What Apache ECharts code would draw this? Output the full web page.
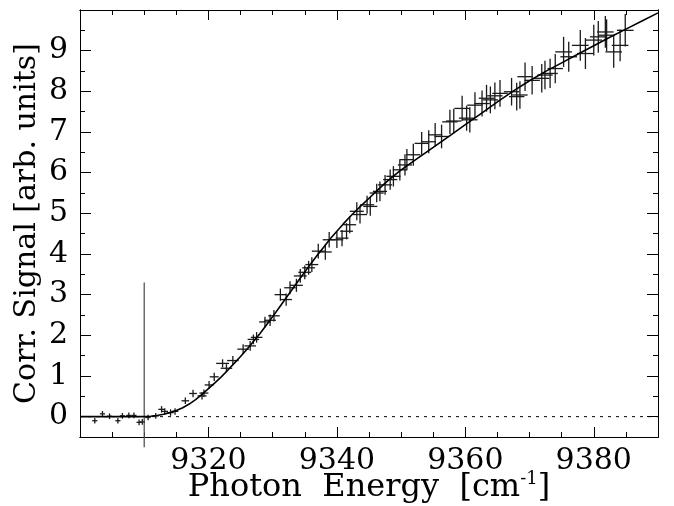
<!DOCTYPE html>
<html><head><meta charset="utf-8">
<script src="https://cdn.jsdelivr.net/npm/echarts@6/dist/echarts.min.js"></script>
<style>html,body{margin:0;padding:0;background:#fff}#c{width:674px;height:506px}</style>
</head><body><div id="c"></div>
<script>
// measured points (photon energy, corrected signal) with error half-widths
const pointX = [9302.3,9303.5,9304.6,9305.9,9306.6,9307.6,9308.4,9309.2,9309.7,9310.6,
  9311.8,9312.7,9313.2,9314.1,9314.8,9316.4,9317.6,9319.0,9319.3,9320.1,
  9320.9,9322.2,9322.8,9323.8,9325.4,9326.5,9327.0,9327.5,9328.8,9329.6,
  9330.2,9331.2,9332.1,9332.7,9333.7,9334.3,9335.0,9335.6,9336.1,9337.1,
  9338.2,9338.8,9340.0,9340.8,9341.5,9342.0,9343.1,9343.6,9344.7,9345.2,
  9346.2,9346.7,9347.5,9348.3,9348.8,9349.8,9350.6,9350.9,9351.9,9353.2,
  9354.3,9355.3,9356.3,9357.6,9358.2,9359.5,9360.2,9360.7,9361.5,9362.6,
  9363.3,9363.9,9364.6,9365.4,9367.2,9368.0,9368.5,9369.3,9370.4,9371.9,
  9372.4,9373.2,9374.0,9375.3,9376.1,9377.9,9378.7,9380.0,9380.7,9381.8,
  9382.0,9383.1,9384.1,9384.9];
const pointY = [-0.10,0.07,0.01,-0.10,0.02,0.03,0.03,-0.14,-0.13,-0.02,
  0.02,0.18,0.13,0.10,0.13,0.39,0.57,0.51,0.58,0.78,
  0.98,1.31,1.19,1.38,1.66,1.74,1.90,1.95,2.33,2.37,
  2.48,3.00,2.88,3.17,3.23,3.46,3.55,3.66,3.74,4.07,
  4.05,4.35,4.35,4.39,4.56,4.72,5.05,4.97,5.21,5.17,
  5.50,5.54,5.70,5.83,5.91,6.07,6.19,6.32,6.44,6.72,
  6.76,6.93,6.89,7.25,7.27,7.58,7.34,7.30,7.66,7.70,
  7.83,7.79,7.89,7.95,7.99,7.87,7.91,8.36,8.27,8.32,
  8.40,8.44,8.56,8.97,8.85,9.13,8.93,9.26,9.34,9.46,
  9.38,8.97,9.13,9.50];
const errX = [0.4,0.4,0.4,0.4,0.4,0.4,0.4,0.4,0.4,0.4,
  0.5,0.5,0.5,0.5,0.5,0.6,0.6,0.7,0.7,0.7,
  0.7,1.0,0.9,0.9,0.9,0.9,0.9,0.9,0.9,0.9,
  0.9,0.9,0.9,0.9,1.0,1.0,1.0,1.0,1.0,1.0,
  1.0,1.0,1.0,1.0,1.0,1.0,1.1,1.1,1.1,1.1,
  1.1,1.1,1.1,1.1,1.1,1.1,1.1,1.1,1.1,1.1,
  1.1,1.1,1.1,1.2,1.2,1.2,1.2,1.2,1.2,1.2,
  1.2,1.2,1.2,1.2,1.2,1.2,1.2,1.2,1.2,1.2,
  1.2,1.2,1.2,1.3,1.3,1.3,1.3,1.3,1.3,1.3,
  1.3,1.3,1.3,1.3];
const errY = [0.07,0.07,0.07,0.07,0.07,0.07,0.07,0.07,0.07,0.07,
  0.07,0.08,0.08,0.08,0.08,0.08,0.09,0.09,0.09,0.10,
  0.10,0.10,0.10,0.11,0.12,0.12,0.12,0.13,0.13,0.14,
  0.14,0.15,0.15,0.16,0.16,0.17,0.17,0.17,0.18,0.18,
  0.19,0.19,0.20,0.20,0.20,0.21,0.22,0.22,0.22,0.23,
  0.23,0.24,0.24,0.25,0.25,0.26,0.26,0.26,0.27,0.28,
  0.28,0.29,0.29,0.30,0.30,0.31,0.31,0.31,0.32,0.32,
  0.33,0.33,0.33,0.33,0.34,0.34,0.34,0.35,0.35,0.35,
  0.35,0.36,0.36,0.37,0.37,0.38,0.38,0.38,0.39,0.39,
  0.39,0.39,0.39,0.40];

// fitted model curve
const fitX = [9300,9310,9311,9312,9313,9314,9315,9316,9317,9318,9319,9320,9321,9322,9323,
  9324,9325,9326,9327,9328,9329,9330,9331,9332,9333,9334,9335,9336,9337,9338,9339,9340,
  9341,9342,9343,9344,9345,9346,9347,9348,9349,9350,9351,9352,9353,9354,9355,
  9357.5,9360,9362.5,9365,9367.5,9370,9372.5,9375,9377.5,9380,9382.5,9385,9387.5,9390];
const fitY = [0,0,0.01,0.03,0.06,0.10,0.15,0.22,0.31,0.42,0.55,0.69,0.83,0.98,1.14,
  1.31,1.48,1.66,1.85,2.04,2.25,2.46,2.68,2.90,3.12,3.34,3.56,3.77,3.98,4.18,4.38,4.56,
  4.74,4.91,5.07,5.22,5.37,5.52,5.67,5.81,5.94,6.07,6.18,6.29,6.40,6.51,6.62,
  6.90,7.18,7.46,7.74,8.01,8.26,8.49,8.70,8.91,9.12,9.33,9.53,9.73,9.93];

// threshold marker and zero reference
const thresholdX = [9310, 9310];
const thresholdY = [-0.75, 3.3];
const zeroX = [9300, 9390];
const zeroY = [0, 0];

const xTickLabels = [9320, 9340, 9360, 9380];
const yTickLabels = [0, 1, 2, 3, 4, 5, 6, 7, 8, 9];

const X_MIN = 9300, X_MAX = 9390, Y_MIN = -0.5, Y_MAX = 10;
const FONT = 'DejaVu Serif';
const zip = (a, b) => a.map((v, i) => [v, b[i]]);

function xAxis(pos, interval, tickLen, labels) {
  return {
    type: 'value', position: pos, min: X_MIN, max: X_MAX, interval: interval,
    axisLine: { show: true, onZero: false, lineStyle: { color: '#000', width: 1 } },
    axisTick: { show: true, inside: true, length: tickLen, lineStyle: { color: '#000', width: 1 } },
    axisLabel: labels ? {
      show: true, margin: 9, color: '#000', fontFamily: FONT, fontSize: 30,
      formatter: v => xTickLabels.indexOf(v) >= 0 ? String(v) : ''
    } : { show: false },
    splitLine: { show: false }
  };
}
function yAxis(pos, opts, tickLen, labels) {
  return Object.assign({
    type: 'value', position: pos, min: Y_MIN, max: Y_MAX,
    axisLine: { show: true, onZero: false, lineStyle: { color: '#000', width: 1 } },
    axisTick: { show: true, inside: true, length: tickLen, lineStyle: { color: '#000', width: 1 } },
    axisLabel: labels ? {
      show: true, margin: 12, color: '#000', fontFamily: FONT, fontSize: 30,
      formatter: v => yTickLabels.indexOf(v) >= 0 ? String(v) : ''
    } : { show: false },
    splitLine: { show: false }
  }, opts);
}

const xs = [
  xAxis('bottom', 20, 10, true),
  xAxis('bottom', 5, 5, false),
  xAxis('top', 20, 10, false),
  xAxis('top', 5, 5, false)
];
Object.assign(xs[0], {
  name: '{n|Photon  Energy  [cm}{s|-1}{n|]}', nameLocation: 'middle', nameGap: 33,
  nameMoveOverlap: false,
  nameTextStyle: { rich: {
    n: { fontFamily: FONT, fontSize: 32, color: '#000', lineHeight: 36 },
    s: { fontFamily: FONT, fontSize: 18, color: '#000', lineHeight: 18, verticalAlign: 'top' }
  } }
});
const ys = [
  yAxis('left', { splitNumber: 10 }, 11, true),
  yAxis('left', { interval: 0.5 }, 5, false),
  yAxis('right', { splitNumber: 10 }, 11, false),
  yAxis('right', { interval: 0.5 }, 5, false)
];
Object.assign(ys[0], {
  name: 'Corr. Signal [arb. units]', nameLocation: 'middle', nameGap: 38, nameRotate: 90,
  nameMoveOverlap: false,
  nameTextStyle: { fontFamily: FONT, fontSize: 30, color: '#000' }
});

const chart = echarts.init(document.getElementById('c'), null, { renderer: 'canvas' });
chart.setOption({
  animation: false,
  backgroundColor: '#fff',
  grid: { left: 80, right: 16, top: 10, bottom: 69, containLabel: false, outerBoundsMode: 'none' },
  xAxis: xs,
  yAxis: ys,
  series: [
    {
      type: 'line', data: zip(zeroX, zeroY), symbol: 'none', z: 1,
      lineStyle: { color: '#000', width: 1, type: [3, 5] }
    },
    {
      type: 'line', data: zip(thresholdX, thresholdY), symbol: 'none', clip: false, z: 2,
      lineStyle: { color: '#555', width: 1.3 }
    },
    {
      type: 'line', data: zip(fitX, fitY), symbol: 'none', smooth: false, z: 4,
      lineStyle: { color: '#000', width: 1.6 }
    },
    {
      type: 'custom', z: 3,
      data: pointX.map((x, i) => [x, pointY[i], errX[i], errY[i]]),
      encode: { x: 0, y: 1 },
      renderItem: function (params, api) {
        const x = api.value(0), y = api.value(1), ex = api.value(2), ey = api.value(3);
        const l = api.coord([x - ex, y]), r = api.coord([x + ex, y]);
        const b = api.coord([x, y - ey]), t = api.coord([x, y + ey]);
        const style = { stroke: '#1a1a1a', lineWidth: 1.3 };
        return { type: 'group', children: [
          { type: 'line', shape: { x1: l[0], y1: l[1], x2: r[0], y2: r[1] }, style: style },
          { type: 'line', shape: { x1: b[0], y1: b[1], x2: t[0], y2: t[1] }, style: style }
        ] };
      }
    }
  ]
});
</script></body></html>
